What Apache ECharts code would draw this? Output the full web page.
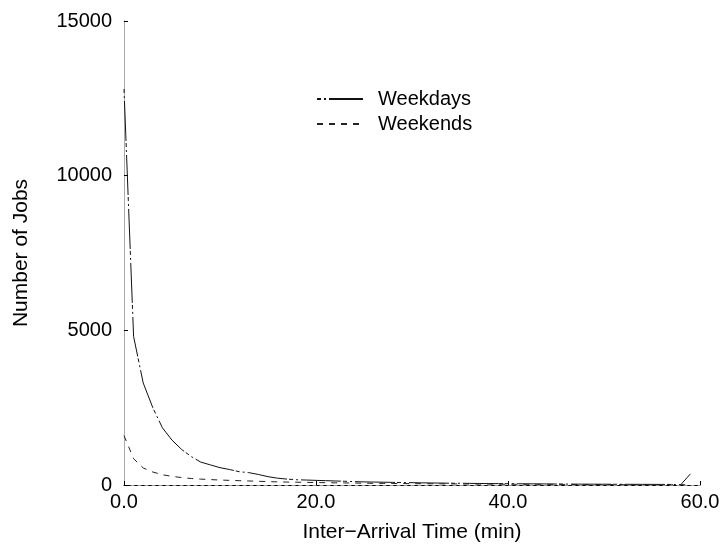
<!DOCTYPE html>
<html>
<head>
<meta charset="utf-8">
<script src="https://cdn.jsdelivr.net/npm/echarts@6/dist/echarts.min.js"></script>
<style>
html,body{margin:0;padding:0;background:#fff;}
#chart{width:724px;height:548px;}
</style>
</head>
<body>
<div id="chart"></div>
<script>
// Inter-arrival time in minutes
var times = [0,1,2,3,4,5,6,7,8,9,10,11,12,13,14,15,16,17,18,19,20,21,22,23,24,25,26,27,28,29,30,31,32,33,34,35,36,37,38,39,40,41,42,43,44,45,46,47,48,49,50,51,52,53,54,55,56,57,58,59];
var weekdays = [12800,4800,3300,2500,1850,1450,1150,920,740,650,560,500,430,400,340,270,220,190,170,160,150,140,130,120,110,100,95,90,85,80,75,70,66,62,58,55,52,49,46,44,42,40,38,36,34,32,30,28,27,26,25,24,23,22,21,20,19,18,10,360];
var weekends = [1600,850,550,420,330,280,240,210,190,175,160,150,140,130,120,110,100,95,90,85,80,75,70,66,62,58,55,52,49,46,44,42,40,38,36,34,32,30,28,26,25,24,23,22,21,20,19,18,17,16,15,14,13,12,11,10,10,9,9,8];
var seriesNames = ['Weekdays','Weekends'];
var xTicks = [0,20,40,60];
var yTicks = [0,5000,10000,15000];

function pairs(xs, ys){ return xs.map(function(x,i){ return [x, ys[i]]; }); }

var font = 'Liberation Sans, Arial, Helvetica, sans-serif';
var chart = echarts.init(document.getElementById('chart'), null, {renderer:'canvas'});
chart.setOption({
  backgroundColor:'#fff',
  animation:false,
  grid:{left:124, right:24, top:21, bottom:58, containLabel:false},
  legend:{
    orient:'vertical', left:316, top:89, padding:0, itemWidth:46, itemHeight:14, itemGap:5,
    data: seriesNames,
    itemStyle:{opacity:0},
    textStyle:{fontFamily:font, fontSize:20, color:'#000', padding:[0,0,0,10]}
  },
  xAxis:[{
    type:'value', min:xTicks[0], max:xTicks[xTicks.length-1], interval:20,
    name:'Inter\u2212Arrival Time (min)', nameLocation:'middle', nameGap:37,
    nameTextStyle:{fontFamily:font, fontSize:21, color:'#000'},
    axisLine:{show:true, lineStyle:{color:'#000', width:1}},
    axisTick:{show:true, inside:true, length:4, lineStyle:{color:'#000'}},
    axisLabel:{fontFamily:font, fontSize:20, color:'#000', margin:7, formatter:function(v){return v.toFixed(1);}},
    splitLine:{show:false}
  },{
    type:'value', position:'top', min:0, max:60,
    axisLine:{show:true, lineStyle:{color:'#999', width:1, type:[3,4]}},
    axisTick:{show:false}, axisLabel:{show:false}, splitLine:{show:false}
  }],
  yAxis:[{
    type:'value', min:yTicks[0], max:yTicks[yTicks.length-1], interval:5000,
    name:'Number of Jobs', nameLocation:'middle', nameGap:92, nameRotate:90,
    nameTextStyle:{fontFamily:font, fontSize:21, color:'#000'},
    axisLine:{show:true, lineStyle:{color:'#999', width:1, type:[6,3,2,3]}},
    axisTick:{show:true, inside:true, length:4, lineStyle:{color:'#000'}},
    axisLabel:{fontFamily:font, fontSize:20, color:'#000', margin:12, formatter:function(v){return String(v);}},
    splitLine:{show:false}
  },{
    type:'value', position:'right', min:0, max:15000,
    axisLine:{show:true, lineStyle:{color:'#aaa', width:1}},
    axisTick:{show:false}, axisLabel:{show:false}, splitLine:{show:false}
  }],
  series:[{
    name:seriesNames[0], type:'line', data:pairs(times, weekdays), symbol:'none',
    lineStyle:{color:'#111', width:1, type:[4,3,2,3,40,2]}, itemStyle:{color:'#111'}
  },{
    name:seriesNames[1], type:'line', data:pairs(times, weekends), symbol:'none',
    lineStyle:{color:'#222', width:1, type:[6,6]}, itemStyle:{color:'#222'}
  }]
});
</script>
</body>
</html>
